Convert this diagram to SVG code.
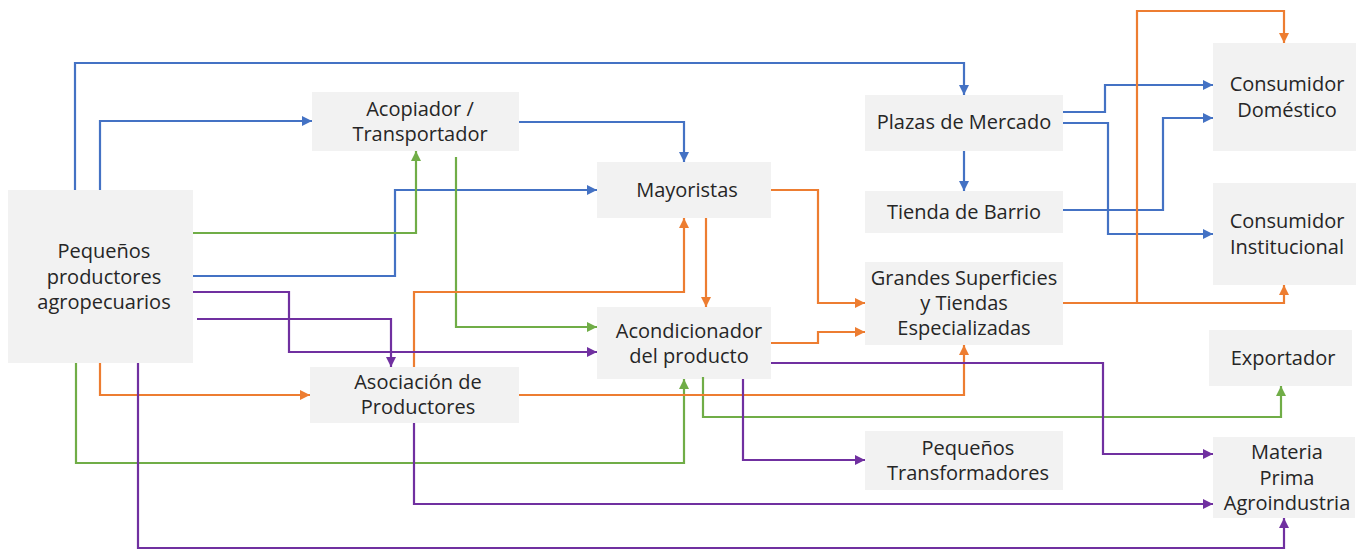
<svg xmlns="http://www.w3.org/2000/svg" width="1370" height="550" viewBox="0 0 1370 550">
<style>
.n rect{fill:#f2f2f2}
.n text{font-family:"Open Sans","Liberation Sans",sans-serif;font-size:20px;fill:#262626;text-anchor:middle}
.c path{fill:none;stroke-width:2.2;stroke-linejoin:miter}
.b{stroke:#4472C4;marker-end:url(#ab)}
.g{stroke:#70AD47;marker-end:url(#ag)}
.o{stroke:#ED7D31;marker-end:url(#ao)}
.p{stroke:#7030A0;marker-end:url(#ap)}
</style>
<defs>
<marker id="ab" markerUnits="userSpaceOnUse" markerWidth="10" markerHeight="10" refX="10" refY="5" orient="auto" viewBox="0 0 10 10"><path d="M0,0L10,5L0,10z" fill="#4472C4"/></marker>
<marker id="ag" markerUnits="userSpaceOnUse" markerWidth="10" markerHeight="10" refX="10" refY="5" orient="auto" viewBox="0 0 10 10"><path d="M0,0L10,5L0,10z" fill="#70AD47"/></marker>
<marker id="ao" markerUnits="userSpaceOnUse" markerWidth="10" markerHeight="10" refX="10" refY="5" orient="auto" viewBox="0 0 10 10"><path d="M0,0L10,5L0,10z" fill="#ED7D31"/></marker>
<marker id="ap" markerUnits="userSpaceOnUse" markerWidth="10" markerHeight="10" refX="10" refY="5" orient="auto" viewBox="0 0 10 10"><path d="M0,0L10,5L0,10z" fill="#7030A0"/></marker>
</defs>
<g class="n">
<g id="productores"><rect x="8" y="190" width="185" height="173"/><text x="104" y="258">Pequeños</text><text x="104" y="284">productores</text><text x="104" y="309">agropecuarios</text></g>
<g id="acopiador"><rect x="312" y="92" width="207" height="59"/><text x="420" y="116">Acopiador /</text><text x="420" y="141">Transportador</text></g>
<g id="mayoristas"><rect x="597" y="162" width="174" height="56"/><text x="687" y="197">Mayoristas</text></g>
<g id="acondicionador"><rect x="597" y="307" width="174" height="72"/><text x="689" y="338">Acondicionador</text><text x="689" y="363">del producto</text></g>
<g id="asociacion"><rect x="310" y="367" width="209" height="56"/><text x="418" y="389">Asociación de</text><text x="418" y="414">Productores</text></g>
<g id="plazas"><rect x="865" y="95" width="198" height="56"/><text x="964" y="129">Plazas de Mercado</text></g>
<g id="tienda"><rect x="865" y="191" width="198" height="42"/><text x="964" y="219">Tienda de Barrio</text></g>
<g id="grandes"><rect x="865" y="262" width="198" height="83"/><text x="964" y="285">Grandes Superficies</text><text x="964" y="310">y Tiendas</text><text x="964" y="335">Especializadas</text></g>
<g id="transformadores"><rect x="865" y="431" width="198" height="59"/><text x="968" y="455">Pequeños</text><text x="968" y="480">Transformadores</text></g>
<g id="domestico"><rect x="1213" y="43" width="143" height="108"/><text x="1287" y="91">Consumidor</text><text x="1287" y="117">Doméstico</text></g>
<g id="institucional"><rect x="1213" y="183" width="143" height="102"/><text x="1287" y="228">Consumidor</text><text x="1287" y="254">Institucional</text></g>
<g id="exportador"><rect x="1209" y="330" width="143" height="56"/><text x="1283" y="365">Exportador</text></g>
<g id="materia"><rect x="1213" y="437" width="142" height="81"/><text x="1287" y="459">Materia</text><text x="1287" y="485">Prima</text><text x="1287" y="510">Agroindustria</text></g>
</g>
<g class="c">
<path class="b" d="M75,190V63H964V95"/>
<path class="b" d="M100,190V121H312"/>
<path class="b" d="M519,122H684V162"/>
<path class="b" d="M193,276H395V190H597"/>
<path class="b" d="M1063,112H1105V85H1213"/>
<path class="b" d="M1063,123H1108V234H1213"/>
<path class="b" d="M1063,210H1163V118H1213"/>
<path class="b" d="M964,151V191"/>
<path class="g" d="M193,233H416V151"/>
<path class="g" d="M456,157V327H597"/>
<path class="g" d="M76,363V463H684V379"/>
<path class="g" d="M703,377V417H1281V386"/>
<path class="o" d="M100,363V395H310"/>
<path class="o" d="M414,367V292H684V218"/>
<path class="o" d="M706,218V307"/>
<path class="o" d="M771,190H818V303H865"/>
<path class="o" d="M771,343H818V332H865"/>
<path class="o" d="M519,395H964V345"/>
<path class="o" d="M1063,303H1284V285"/>
<path class="o" d="M1137,303V11H1284V43"/>
<path class="p" d="M193,292H289V352H597"/>
<path class="p" d="M197,319H391V367"/>
<path class="p" d="M138,363V548H1284V518"/>
<path class="p" d="M771,363H1103V454H1213"/>
<path class="p" d="M743,379V460H865"/>
<path class="p" d="M414,423V504H1213"/>
</g>
</svg>
